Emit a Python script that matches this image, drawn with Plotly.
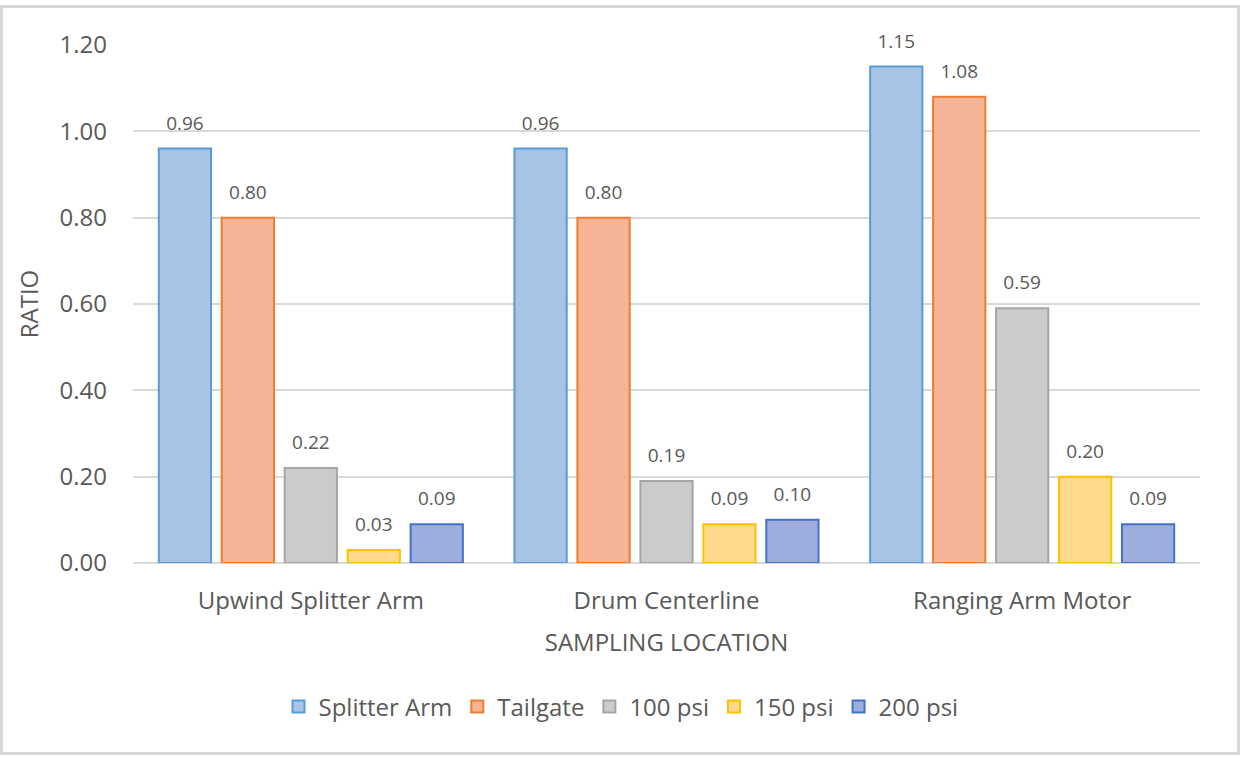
import plotly.graph_objects as go

# Sampling locations along the x axis
locations = ["Upwind Splitter Arm", "Drum Centerline", "Ranging Arm Motor"]

# Ratio values per series
splitter_arm = [0.96, 0.96, 1.15]
tailgate = [0.80, 0.80, 1.08]
psi_100 = [0.22, 0.19, 0.59]
psi_150 = [0.03, 0.09, 0.20]
psi_200 = [0.09, 0.10, 0.09]

y_ticks = [0.0, 0.2, 0.4, 0.6, 0.8, 1.0, 1.2]

series = [
    ("Splitter Arm", splitter_arm, "#A7C4E7", "#5B9BD5"),
    ("Tailgate", tailgate, "#F5B496", "#ED7D31"),
    ("100 psi", psi_100, "#CBCBCB", "#A5A5A5"),
    ("150 psi", psi_150, "#FFD98C", "#FFC000"),
    ("200 psi", psi_200, "#9DADDD", "#4472C4"),
]

FONT = "Open Sans, Noto Sans, sans-serif"
GREY_TEXT = "#595959"
SIZE = 24

fig = go.Figure()
for name, vals, fill, edge in series:
    fig.add_trace(go.Bar(
        name=name,
        x=locations,
        y=vals,
        marker=dict(color=fill, line=dict(color=edge, width=2)),
        # value label, with a short spacer line below it to lift it off the bar
        texttemplate="<span style='font-size:19px'>%{y:.2f}</span><br> ",
        textposition="outside",
        textfont=dict(family=FONT, size=10, color=GREY_TEXT),
        constraintext="none",
        cliponaxis=False,
    ))

# light frame around the whole chart
L, R, T, B = 133, 43, 45, 195
W, H = 1243, 758
pw, ph = W - L - R, H - T - B
fig.add_shape(
    type="rect", xref="paper", yref="paper",
    x0=(1.5 - L) / pw, x1=(1238.5 - L) / pw,
    y0=(H - B - 753.5) / ph, y1=(H - B - 6.5) / ph,
    line=dict(color="#D9D9D9", width=3), fillcolor="rgba(0,0,0,0)", layer="below",
)

fig.update_layout(
    width=W, height=H,
    margin=dict(l=L, r=R, t=T, b=B, autoexpand=False),
    paper_bgcolor="white", plot_bgcolor="white",
    barmode="group", bargap=0.115, bargroupgap=0.17,
    font=dict(family=FONT, color=GREY_TEXT),
    showlegend=True,
    legend=dict(
        orientation="h", x=(621 - L) / pw, xanchor="center",
        y=(H - B - 707) / ph, yanchor="middle",
        font=dict(family=FONT, size=SIZE, color=GREY_TEXT),
        itemwidth=30, tracegroupgap=0,
    ),
    xaxis=dict(
        showline=False, showgrid=False, ticks="outside", ticklen=0,
        ticklabelstandoff=16,
        tickfont=dict(family=FONT, size=SIZE, color=GREY_TEXT),
        title=dict(text="SAMPLING LOCATION", standoff=19,
                   font=dict(family=FONT, size=SIZE, color=GREY_TEXT)),
    ),
    yaxis=dict(
        range=[0, 1.2], tickvals=y_ticks, tickformat=".2f",
        showgrid=True, gridcolor="#D9D9D9", gridwidth=1.5,
        zeroline=True, zerolinecolor="#D9D9D9", zerolinewidth=1.5,
        showline=False, ticklabelstandoff=25,
        tickfont=dict(family=FONT, size=SIZE, color=GREY_TEXT),
        title=dict(text="RATIO", standoff=14,
                   font=dict(family=FONT, size=SIZE, color=GREY_TEXT)),
    ),
)

fig.write_html("out.html")
